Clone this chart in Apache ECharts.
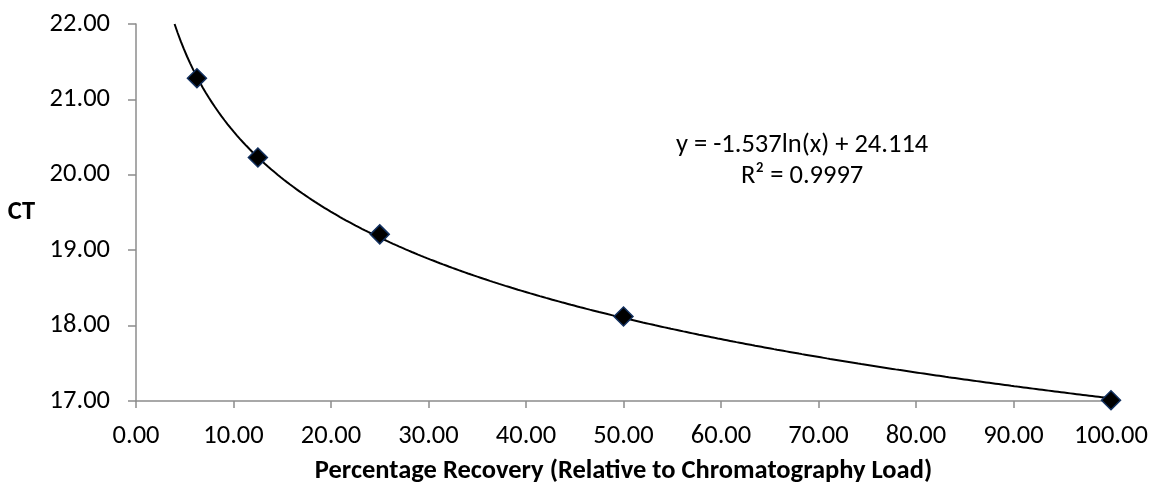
<!DOCTYPE html>
<html>
<head>
<meta charset="utf-8">
<script src="https://cdn.jsdelivr.net/npm/echarts@6/dist/echarts.min.js"></script>
<style>
html,body{margin:0;padding:0;background:#fff;}
#chart{width:1153px;height:490px;}
</style>
</head>
<body>
<div id="chart"></div>
<script>
// Data
const recovery = [6.25, 12.5, 25, 50, 100];
const ctValues = [21.28, 20.23, 19.21, 18.12, 17.01];
// Trendline coefficients as printed on the chart: y = a*ln(x) + b
const trendA = -1.537;
const trendB = 24.114;
const trendLabel = ['y = -1.537ln(x) + 24.114', 'R² = 0.9997'];
const xAxisTitle = 'Percentage Recovery (Relative to Chromatography Load)';
const yAxisTitle = 'CT';

const FONT = 'Carlito, Lato, sans-serif';
const FS = 26.5;

// trendline samples from the printed equation
const xStart = Math.exp((trendB - 22) / -trendA);
const trendPts = [];
const N = 300;
for (let i = 0; i <= N; i++) {
  const x = xStart + (100 - xStart) * i / N;
  trendPts.push([x, trendA * Math.log(x) + trendB]);
}

const chart = echarts.init(document.getElementById('chart'), null, {renderer: 'canvas'});
chart.setOption({
  animation: false,
  backgroundColor: '#fff',
  grid: {left: 136, right: 42, top: 24, bottom: 89, containLabel: false, outerBoundsMode: 'none'},
  xAxis: {
    type: 'value', min: 0, max: 100, interval: 10,
    name: xAxisTitle, nameLocation: 'middle', nameGap: 57,
    nameTextStyle: {fontFamily: FONT, fontSize: FS, fontWeight: 'bold', color: '#000'},
    axisLine: {show: true, lineStyle: {color: '#8c8c8c', width: 1.5}},
    axisTick: {show: true, length: 7, lineStyle: {color: '#8c8c8c', width: 1.5}},
    axisLabel: {fontFamily: FONT, fontSize: FS, color: '#000', margin: 22,
      formatter: v => v.toFixed(2)},
    splitLine: {show: false}
  },
  yAxis: {
    type: 'value', min: 17, max: 22, interval: 1,
    name: yAxisTitle, nameLocation: 'middle', nameGap: 101, nameRotate: 0,
    nameTextStyle: {fontFamily: FONT, fontSize: FS, fontWeight: 'bold', color: '#000'},
    axisLine: {show: true, lineStyle: {color: '#8c8c8c', width: 1.5}},
    axisTick: {show: true, length: 8, lineStyle: {color: '#8c8c8c', width: 1.5}},
    axisLabel: {fontFamily: FONT, fontSize: FS, color: '#000', margin: 26,
      formatter: v => v.toFixed(2)},
    splitLine: {show: false}
  },
  graphic: [{
    type: 'text', left: 676, top: 130,
    style: {
      text: trendLabel.join('\n'), fontFamily: FONT, fontSize: FS, fill: '#000',
      textAlign: 'center', lineHeight: 31
    }
  }],
  series: [
    {
      type: 'line', data: trendPts, showSymbol: false, symbol: 'none',
      lineStyle: {color: '#000', width: 2}, clip: true, silent: true, z: 2
    },
    {
      type: 'scatter', data: recovery.map((x, i) => [x, ctValues[i]]),
      symbol: 'diamond', symbolSize: 19,
      itemStyle: {color: '#000', borderColor: '#12305f', borderWidth: 1.5, opacity: 1},
      z: 3
    }
  ]
});
</script>
</body>
</html>
